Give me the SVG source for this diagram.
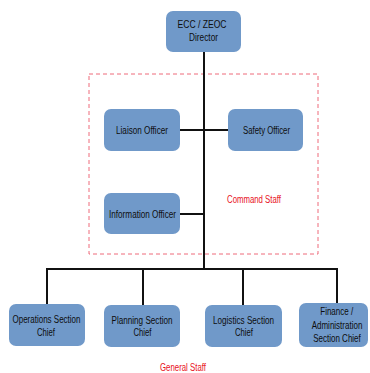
<svg xmlns="http://www.w3.org/2000/svg" width="370" height="373" viewBox="0 0 370 373">
  <style>
    .box { fill: #7099c9; stroke: none; }
    text { font-family: "Liberation Sans", Arial, sans-serif; font-size: 10px; text-anchor: middle; }
    .lbl { fill: #0d0d0d; }
    .red { fill: #e8101c; }
    .wire { stroke: #111; stroke-width: 2; fill: none; }
  </style>
  <rect width="370" height="373" fill="#ffffff"/>

  <!-- command staff boundary -->
  <rect x="89" y="74" width="229" height="180" fill="none" stroke="#ee6b7a" stroke-width="1" stroke-dasharray="4,3"/>
  <text class="red" x="254" y="203" textLength="54" lengthAdjust="spacingAndGlyphs">Command Staff</text>
  <text class="red" x="183" y="371" textLength="46" lengthAdjust="spacingAndGlyphs">General Staff</text>

  <g id="connectors">
    <path class="wire" d="M204 52 V269"/>
    <path class="wire" d="M180 130 H228"/>
    <path class="wire" d="M180 214 H204"/>
    <path class="wire" d="M47 304 V269 H337 V303"/>
    <path class="wire" d="M143 269 V305"/>
    <path class="wire" d="M243 269 V305"/>
  </g>

  <g id="director">
    <rect class="box" x="166" y="11" width="75" height="41" rx="7"/>
    <text class="lbl" x="202" y="28" textLength="49" lengthAdjust="spacingAndGlyphs">ECC / ZEOC</text>
    <text class="lbl" x="203.5" y="41" textLength="29" lengthAdjust="spacingAndGlyphs">Director</text>
  </g>
  <g id="liaison">
    <rect class="box" x="104" y="109" width="76" height="42" rx="7"/>
    <text class="lbl" x="142" y="133.5" textLength="52" lengthAdjust="spacingAndGlyphs">Liaison Officer</text>
  </g>
  <g id="safety">
    <rect class="box" x="228" y="109" width="75" height="42" rx="7"/>
    <text class="lbl" x="266.5" y="133.5" textLength="47" lengthAdjust="spacingAndGlyphs">Safety Officer</text>
  </g>
  <g id="information">
    <rect class="box" x="104" y="193" width="76" height="41" rx="7"/>
    <text class="lbl" x="142.5" y="217.5" textLength="67" lengthAdjust="spacingAndGlyphs">Information Officer</text>
  </g>
  <g id="operations">
    <rect class="box" x="9" y="304" width="76" height="42" rx="7"/>
    <text class="lbl" x="46.5" y="323" textLength="68" lengthAdjust="spacingAndGlyphs">Operations Section</text>
    <text class="lbl" x="46" y="335.5" textLength="18" lengthAdjust="spacingAndGlyphs">Chief</text>
  </g>
  <g id="planning">
    <rect class="box" x="104" y="305" width="76" height="42" rx="7"/>
    <text class="lbl" x="142" y="323.5" textLength="61" lengthAdjust="spacingAndGlyphs">Planning Section</text>
    <text class="lbl" x="142.5" y="336" textLength="18" lengthAdjust="spacingAndGlyphs">Chief</text>
  </g>
  <g id="logistics">
    <rect class="box" x="205" y="305" width="77" height="42" rx="7"/>
    <text class="lbl" x="243.5" y="323.5" textLength="61" lengthAdjust="spacingAndGlyphs">Logistics Section</text>
    <text class="lbl" x="244" y="336" textLength="18" lengthAdjust="spacingAndGlyphs">Chief</text>
  </g>
  <g id="finance">
    <rect class="box" x="299" y="303" width="69" height="44" rx="7"/>
    <!-- narrow lines drawn through a horizontal squeeze -->
    <text class="lbl" transform="translate(336.7 315) scale(0.8 1)">Finance /</text>
    <text class="lbl" transform="translate(337 328.5) scale(0.8 1)">Administration</text>
    <text class="lbl" transform="translate(337 342) scale(0.8 1)">Section Chief</text>
  </g>
</svg>
